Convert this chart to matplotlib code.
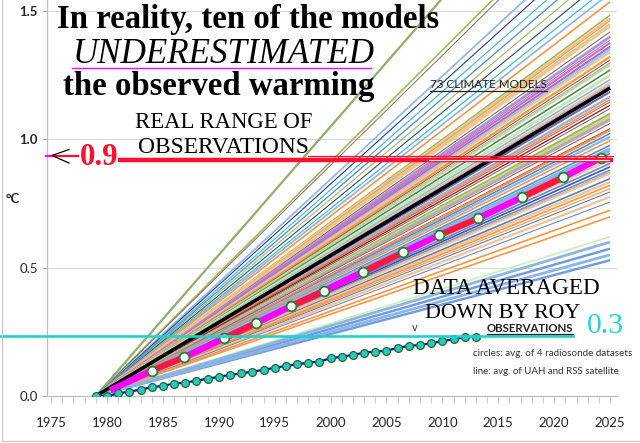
import matplotlib
matplotlib.use("Agg")
import matplotlib.pyplot as plt
from matplotlib.lines import Line2D
from matplotlib import transforms

# ---------------- data ----------------
start_year = 1979
end_year = 2025

# model trend values (deg C) reached in 2025, each model trend starts at 0 in 1979
model_end_values = [
    2.30, 2.00, 1.97, 1.85, 1.81, 1.76, 1.72, 1.68, 1.64, 1.60, 1.57,
    1.536, 1.484, 1.471, 1.462, 1.45, 1.44, 1.419, 1.40, 1.387, 1.376, 1.361,
    1.35, 1.34, 1.322, 1.309, 1.298, 1.29, 1.27, 1.25, 1.233, 1.22, 1.21,
    1.185, 1.166, 1.155, 1.146, 1.133, 1.12, 1.10, 1.09, 1.081, 1.075, 1.062,
    1.042, 1.036, 1.023, 1.01, 0.995, 0.977, 0.964, 0.955, 0.945, 0.92, 0.906,
    0.893, 0.88, 0.87, 0.867, 0.847, 0.834, 0.821, 0.808, 0.795, 0.776, 0.756,
    0.724, 0.698, 0.62, 0.574, 0.529, 0.55, 0.60,
]
model_colors = [
    "#8FAE6A", "#9BBB59", "#8B5A66", "#8DB4E2", "#23399A", "#3FB6C8", "#558ED5", "#9BBB59", "#2C4D75", "#31B8C6", "#8DB4E2",
    "#F79646", "#9BBB59", "#FAC090", "#F79646", "#C3D69B", "#FAC090", "#8C6D46", "#B18FE8", "#7F8FBF", "#E46C9F", "#A66BE8",
    "#93CDDD", "#FAC090", "#F79646", "#7F6A4A", "#A6A6A6", "#C3D69B", "#4F8A5B", "#C3E6B4", "#8DB4E2", "#FAC090", "#95B3D7",
    "#8064A2", "#8DB4E2", "#F79646", "#D9545F", "#772C2A", "#A0655F", "#9BBB59", "#C3D69B", "#F79646", "#95B3D7", "#C0504D",
    "#7F4F3F", "#F79646", "#558ED5", "#8DB4E2", "#F79646", "#558ED5", "#8DB4E2", "#95B3D7", "#4F81BD", "#FAC090", "#558ED5",
    "#4D4D9F", "#6C8EBF", "#95B3D7", "#FAC090", "#4F81BD", "#FAC090", "#F79646", "#F79646", "#4F81BD", "#FAC090", "#6C8EBF",
    "#F79646", "#F79646", "#C6F2B8", "#6F9BE0", "#6F9BE0", "#8DB4E2", "#8DB4E2",
]
model_widths = [
    2.0, 1.5, 0.8, 1.5, 1.0, 1.0, 1.2, 1.0, 1.0, 1.0, 1.5,
    1.5, 1.5, 2.5, 1.0, 2.0, 2.0, 1.0, 2.5, 1.0, 2.0, 2.0,
    2.0, 2.0, 2.0, 1.0, 1.0, 2.0, 1.5, 2.5, 1.5, 2.0, 2.0,
    2.0, 2.0, 1.5, 1.0, 1.2, 1.0, 2.0, 2.0, 1.5, 2.0, 1.0,
    1.0, 2.0, 1.5, 2.0, 1.5, 1.5, 2.5, 2.0, 1.5, 2.0, 1.5,
    1.5, 1.5, 2.0, 2.0, 1.5, 2.0, 1.5, 1.0, 1.0, 2.0, 1.0,
    1.5, 1.5, 1.5, 2.2, 2.2, 2.5, 2.5,
]
multi_model_end = 1.20  # thick black line value in 2025

mean_years = [1980.3, 1984.0, 1986.9, 1990.5, 1993.3, 1996.5, 1999.4,
              2002.9, 2006.5, 2009.7, 2013.2, 2017.1, 2020.8, 2024.2]
mean_values = [0.022, 0.099, 0.151, 0.225, 0.283, 0.351, 0.409,
               0.484, 0.560, 0.627, 0.692, 0.774, 0.852, 0.928]

obs_years = list(range(1979, 2014))
obs_values = [0.0, 0.0, 0.010, 0.017, 0.025, 0.034, 0.040, 0.048, 0.052, 0.060,
              0.067, 0.075, 0.082, 0.088, 0.095, 0.102, 0.110, 0.117, 0.123, 0.130,
              0.134, 0.147, 0.153, 0.160, 0.169, 0.173, 0.176, 0.188, 0.195, 0.199,
              0.205, 0.214, 0.221, 0.229, 0.231]

real_range_level = 0.921
roy_level = 0.235

x_ticks = [1975, 1980, 1985, 1990, 1995, 2000, 2005, 2010, 2015, 2020, 2025]
y_ticks = [0.0, 0.5, 1.0, 1.5]
y_tick_labels = ["0.0", "0.5", "1.0", "1.5"]

# ---------------- figure ----------------
W, H = 640, 443
fig = plt.figure(figsize=(6.4, 4.43), dpi=100)
fig.patch.set_facecolor("white")


def P(x, y):
    return (x / W, 1 - y / H)


ax = fig.add_axes([47 / W, 1 - 396 / H, 570 / W, 396 / H])
ax.set_xlim(1974.63, 2025.62)
ax.set_ylim(0, 1.543)
for s in ["top", "right"]:
    ax.spines[s].set_visible(False)
for s in ["left", "bottom"]:
    ax.spines[s].set_color("#BFBFBF")
    ax.spines[s].set_linewidth(0.9)
ax.yaxis.grid(True, color="#D9D9D9", lw=0.8)
ax.set_axisbelow(True)

ax.set_yticks(y_ticks)
ax.set_yticklabels(y_tick_labels)
for lab in ax.get_yticklabels():
    if lab.get_text() in ("1.0", "1.5"):
        lab.set_fontweight("bold")
ax.set_xticks(x_ticks)
ax.set_xticks(range(1975, 2026), minor=True)
ax.tick_params(axis="y", length=3.6, color="#A6A6A6", pad=3, labelsize=9.5)
ax.tick_params(axis="x", which="both", length=5, color="#C8C8C8", pad=10, labelsize=9.5)
for lab in ax.get_xticklabels() + ax.get_yticklabels():
    lab.set_family(["Lato", "DejaVu Sans"])
    lab.set_color("#262626")

# model lines
for v, c, lw in zip(model_end_values, model_colors, model_widths):
    ax.plot([start_year, end_year], [0, v], color=c, lw=lw * 0.8, solid_capstyle="butt")
ax.plot([start_year, end_year], [0, multi_model_end], color="black", lw=2.6, solid_capstyle="butt")

# model mean (thick dashed red/magenta with circles)
seg_colors = ["#FF00FF", "#FF1744"]
for i in range(len(mean_years) - 1):
    ax.plot(mean_years[i:i + 2], mean_values[i:i + 2], color=seg_colors[i % 2],
            lw=4.6, solid_capstyle="butt", zorder=5)
ax.plot(mean_years[1:], mean_values[1:], "o", mfc="white", mec="#2E7D32", ms=7, mew=1.3, zorder=6)

# observations
ax.plot(obs_years, obs_values, color="#0010C8", lw=1.6, marker="o", mfc="#2CC8C0",
        mec="#1E6B30", ms=5.6, mew=0.9, zorder=6)

# real range line (red)
ax.plot([1980.98, 2025.26], [real_range_level, real_range_level], color="#FF1030", lw=3.2,
        solid_capstyle="butt", zorder=7)
ax.plot([1997.98, 2025.26], [real_range_level + 0.015, real_range_level + 0.015], color="#FF1030",
        lw=0.9, zorder=7)
ax.plot([2008.8, 2024.9], [real_range_level, real_range_level], color="white", lw=0.8, zorder=7)

# cyan line (extends left of the axis)
blend = transforms.blended_transform_factory(fig.transFigure, ax.transData)
ax.add_line(Line2D([0 / W, 573 / W], [roy_level, roy_level], transform=blend, color="#1ED2D2",
                   lw=1.9, clip_on=False, zorder=8))

# ---------------- texts ----------------
fits = []
serif = ["Liberation Serif", "DejaVu Serif"]
narrow = ["Lato", "DejaVu Sans"]


def txt(x, y, s, width=None, **kw):
    t = fig.text(*P(x, y), s, **kw)
    if width:
        fits.append((t, width))
    return t


txt(248, 28, "In reality, ten of the models", 382, ha="center", va="baseline",
    family=serif, fontweight="bold", fontsize=23, color="black", zorder=10)
txt(224, 63, "UNDERESTIMATED", 302, ha="center", va="baseline",
    family=serif, style="italic", fontsize=23, color="black", zorder=10)
txt(219, 95, "the observed warming", 312, ha="center", va="baseline",
    family=serif, fontweight="bold", fontsize=23, color="black", zorder=10)
fig.add_artist(Line2D([72 / W, 371 / W], [1 - 68 / H, 1 - 68 / H], color="#FF00FF", lw=1.0))

txt(224, 128, "REAL RANGE OF", 178, ha="center", va="baseline", family=serif, fontsize=14, color="black")
txt(223, 153, "OBSERVATIONS", 170, ha="center", va="baseline", family=serif, fontsize=14, color="black")
txt(99, 165, "0.9", 39, ha="center", va="baseline", family=serif, fontweight="bold", fontsize=21, color="#FF1030")
fig.add_artist(Line2D([53 / W, 78 / W], [1 - 155.5 / H, 1 - 155.5 / H], color="#FF1030", lw=1.6))
fig.add_artist(Line2D([46 / W, 53 / W], [1 - 156 / H, 1 - 156 / H], color="#FF00FF", lw=1.6))
fig.add_artist(Line2D([69 / W, 52 / W, 69 / W], [1 - 149.5 / H, 1 - 155.5 / H, 1 - 163 / H],
                      color="black", lw=0.9))

txt(506, 294, "DATA AVERAGED", 187, ha="center", va="baseline", family=serif, fontsize=14, color="black")
txt(503, 318, "DOWN BY ROY", 154, ha="center", va="baseline", family=serif, fontsize=14, color="black")
txt(605, 333, "0.3", 37, ha="center", va="baseline", family=serif, fontsize=21, color="#22D5D5")

txt(488, 88, "73 CLIMATE MODELS", 117, ha="center", va="baseline", family=narrow,
    fontsize=8, color="#222222")
fig.add_artist(Line2D([430 / W, 547 / W], [1 - 91 / H, 1 - 91 / H], color="#222222", lw=0.9))
txt(530, 332, "OBSERVATIONS", 86, ha="center", va="baseline", family=narrow,
    fontweight="bold", fontsize=8, color="#222222")
fig.add_artist(Line2D([487 / W, 573 / W], [1 - 334 / H, 1 - 334 / H], color="#222222", lw=0.9))
txt(473, 354, "circles: avg. of 4 radiosonde datasets", 160, ha="left", va="center", family=narrow,
    fontsize=6.5, color="#333333")
txt(473, 371, "line: avg. of UAH and RSS satellite", 147, ha="left", va="center", family=narrow,
    fontsize=6.5, color="#333333")
txt(415, 331, "v", None, ha="center", va="baseline", family=["DejaVu Sans"], fontsize=7, color="#333333")
txt(13, 203, "°C", None, ha="center", va="baseline", family=["Lato", "DejaVu Sans"], fontsize=9.5,
    fontweight="bold", color="#262626")

# outer frame (left and bottom)
fig.add_artist(Line2D([2 / W, 2 / W], [1 - 441 / H, 1.0], color="#C8C8C8", lw=0.9))
fig.add_artist(Line2D([2 / W, 1.0], [1 - 441 / H, 1 - 441 / H], color="#C8C8C8", lw=0.9))

# fit text widths to target pixel widths
for _ in range(2):
    fig.canvas.draw()
    r = fig.canvas.get_renderer()
    for t, w in fits:
        bb = t.get_window_extent(r)
        if bb.width > 0:
            t.set_fontsize(t.get_fontsize() * w / bb.width)

fig.savefig("out.png", dpi=100, facecolor="white")
